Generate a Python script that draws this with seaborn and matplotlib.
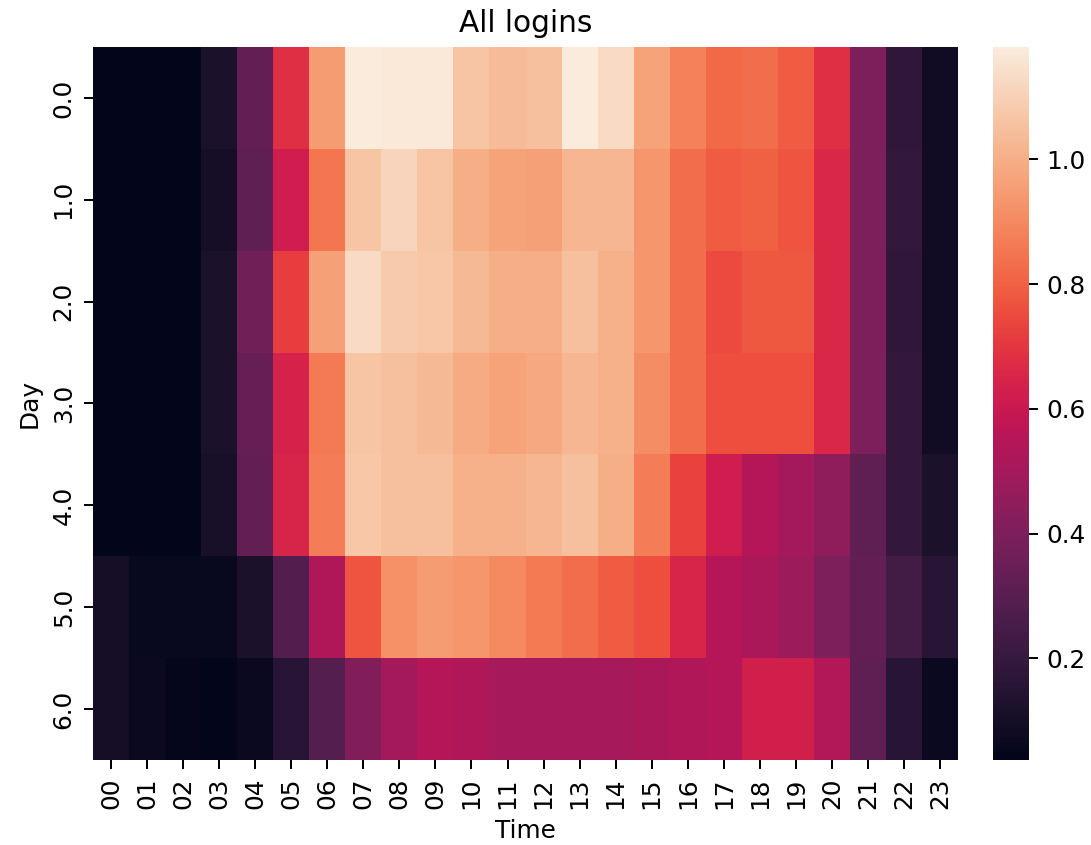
import numpy as np
import pandas as pd
import seaborn as sns
import matplotlib.pyplot as plt

# hours of day and weekday index (as floats, like the original dataframe)
hours = ['%02d' % h for h in range(24)]
days = [0.0, 1.0, 2.0, 3.0, 4.0, 5.0, 6.0]

# mean logins per hour
day0 = [0.04, 0.04, 0.04, 0.12, 0.33, 0.68, 0.95, 1.18, 1.17, 1.17, 1.06, 1.04,
        1.05, 1.18, 1.13, 0.97, 0.88, 0.82, 0.83, 0.79, 0.68, 0.40, 0.18, 0.09]
day1 = [0.04, 0.04, 0.04, 0.10, 0.32, 0.62, 0.85, 1.06, 1.11, 1.06, 1.00, 0.97,
        0.96, 1.02, 1.02, 0.93, 0.83, 0.79, 0.80, 0.77, 0.66, 0.40, 0.19, 0.09]
day2 = [0.04, 0.04, 0.04, 0.12, 0.37, 0.72, 0.96, 1.13, 1.08, 1.07, 1.03, 1.00,
        1.00, 1.05, 1.01, 0.93, 0.83, 0.75, 0.78, 0.78, 0.66, 0.40, 0.18, 0.09]
day3 = [0.04, 0.04, 0.04, 0.12, 0.34, 0.64, 0.86, 1.06, 1.05, 1.03, 0.99, 0.97,
        0.98, 1.02, 1.01, 0.91, 0.83, 0.76, 0.76, 0.76, 0.66, 0.40, 0.19, 0.09]
day4 = [0.04, 0.04, 0.04, 0.11, 0.33, 0.65, 0.87, 1.07, 1.05, 1.05, 1.01, 1.01,
        1.02, 1.05, 1.00, 0.87, 0.73, 0.62, 0.55, 0.50, 0.45, 0.32, 0.19, 0.12]
day5 = [0.10, 0.06, 0.06, 0.06, 0.12, 0.28, 0.53, 0.77, 0.92, 0.95, 0.93, 0.90,
        0.86, 0.83, 0.79, 0.76, 0.65, 0.55, 0.52, 0.48, 0.40, 0.33, 0.24, 0.16]
day6 = [0.10, 0.07, 0.05, 0.037, 0.07, 0.16, 0.29, 0.41, 0.50, 0.55, 0.53, 0.51,
        0.51, 0.51, 0.51, 0.52, 0.53, 0.55, 0.63, 0.63, 0.54, 0.32, 0.16, 0.07]

df = pd.DataFrame([day0, day1, day2, day3, day4, day5, day6],
                  index=pd.Index(days, name='Day'),
                  columns=pd.Index(hours, name='Time'))

dpi = 178
fig = plt.figure(figsize=(1091/dpi, 845/dpi), dpi=dpi)
ax = fig.add_axes([0.0852, 0.1006, 0.793, 0.8438])
cax = fig.add_axes([0.910, 0.1006, 0.033, 0.8438])
sns.heatmap(df, ax=ax, cbar_ax=cax)
ax.set_title('All logins')
ax.tick_params(axis='x', rotation=90)
fig.savefig('out.png', dpi=dpi)
